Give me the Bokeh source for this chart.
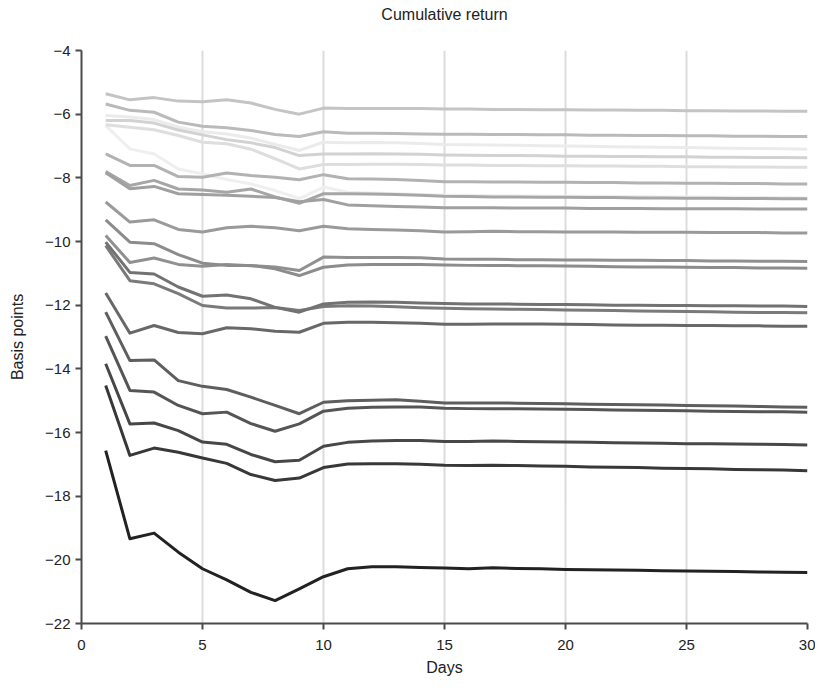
from bokeh.plotting import figure
from bokeh.embed import file_html
from bokeh.resources import INLINE
from bokeh.models import LinearAxis, FixedTicker

days = list(range(1, 31))

s01 = [-5.36, -5.55, -5.48, -5.59, -5.61, -5.55, -5.65, -5.85, -6.00, -5.81,
       -5.82, -5.82, -5.82, -5.82, -5.84, -5.84, -5.85, -5.85, -5.86, -5.86,
       -5.87, -5.87, -5.88, -5.88, -5.89, -5.89, -5.90, -5.90, -5.91, -5.91]
s02 = [-5.68, -5.88, -5.94, -6.25, -6.38, -6.43, -6.51, -6.64, -6.70, -6.55,
       -6.60, -6.60, -6.61, -6.62, -6.63, -6.63, -6.64, -6.64, -6.65, -6.65,
       -6.66, -6.66, -6.67, -6.67, -6.68, -6.68, -6.69, -6.69, -6.70, -6.70]
s03 = [-6.04, -6.09, -6.17, -6.41, -6.55, -6.62, -6.75, -6.95, -7.14, -6.88,
       -6.90, -6.89, -6.90, -6.92, -6.95, -6.96, -6.97, -6.98, -6.99, -7.00,
       -7.01, -7.02, -7.03, -7.04, -7.05, -7.06, -7.07, -7.08, -7.09, -7.10]
s04 = [-6.20, -6.20, -6.28, -6.50, -6.65, -6.80, -6.90, -7.05, -7.30, -7.25,
       -7.25, -7.24, -7.25, -7.26, -7.28, -7.29, -7.30, -7.30, -7.31, -7.32,
       -7.32, -7.33, -7.33, -7.34, -7.34, -7.35, -7.35, -7.36, -7.36, -7.37]
s05 = [-6.33, -6.41, -6.49, -6.67, -6.88, -6.93, -7.10, -7.40, -7.72, -7.58,
       -7.58, -7.57, -7.57, -7.58, -7.60, -7.60, -7.61, -7.61, -7.62, -7.62,
       -7.63, -7.63, -7.64, -7.64, -7.65, -7.65, -7.66, -7.66, -7.67, -7.67]
s06 = [-6.36, -7.09, -7.25, -7.72, -7.87, -8.05, -8.19, -8.40, -8.65, -8.29,
       -8.45, -8.48, -8.50, -8.52, -8.55, -8.55, -8.56, -8.57, -8.57, -8.58,
       -8.58, -8.59, -8.59, -8.60, -8.60, -8.61, -8.61, -8.62, -8.62, -8.63]
s07 = [-7.25, -7.61, -7.61, -7.96, -7.98, -7.85, -7.93, -7.98, -8.06, -7.90,
       -8.03, -8.04, -8.05, -8.08, -8.12, -8.12, -8.13, -8.13, -8.14, -8.14,
       -8.15, -8.15, -8.16, -8.16, -8.17, -8.17, -8.18, -8.18, -8.19, -8.19]
s08 = [-7.80, -8.24, -8.08, -8.35, -8.38, -8.45, -8.35, -8.60, -8.80, -8.50,
       -8.50, -8.51, -8.52, -8.55, -8.58, -8.59, -8.60, -8.60, -8.61, -8.61,
       -8.62, -8.62, -8.63, -8.63, -8.64, -8.64, -8.65, -8.65, -8.66, -8.66]
s09 = [-7.84, -8.34, -8.27, -8.50, -8.52, -8.55, -8.58, -8.62, -8.75, -8.68,
       -8.85, -8.88, -8.90, -8.92, -8.94, -8.94, -8.94, -8.95, -8.95, -8.95,
       -8.96, -8.96, -8.96, -8.97, -8.97, -8.97, -8.97, -8.98, -8.98, -8.98]
s10 = [-8.76, -9.39, -9.32, -9.62, -9.70, -9.57, -9.52, -9.57, -9.66, -9.52,
       -9.60, -9.62, -9.64, -9.66, -9.70, -9.69, -9.68, -9.69, -9.69, -9.70,
       -9.70, -9.70, -9.71, -9.71, -9.71, -9.72, -9.72, -9.72, -9.73, -9.73]
s11 = [-9.32, -10.02, -10.07, -10.41, -10.68, -10.75, -10.75, -10.86, -11.07, -10.81,
       -10.74, -10.72, -10.72, -10.72, -10.74, -10.75, -10.75, -10.76, -10.76, -10.77,
       -10.78, -10.79, -10.80, -10.80, -10.81, -10.82, -10.82, -10.83, -10.83, -10.84]
s12 = [-9.81, -10.66, -10.52, -10.72, -10.78, -10.72, -10.76, -10.80, -10.91, -10.49,
       -10.50, -10.50, -10.50, -10.51, -10.55, -10.56, -10.56, -10.57, -10.57, -10.58,
       -10.58, -10.59, -10.59, -10.60, -10.60, -10.61, -10.61, -10.62, -10.62, -10.63]
s13 = [-10.02, -10.97, -11.02, -11.43, -11.72, -11.68, -11.80, -12.07, -12.22, -11.96,
       -11.91, -11.90, -11.91, -11.93, -11.95, -11.96, -11.96, -11.97, -11.98, -11.98,
       -11.99, -12.00, -12.00, -12.01, -12.01, -12.02, -12.02, -12.03, -12.03, -12.04]
s14 = [-10.13, -11.23, -11.33, -11.64, -12.01, -12.09, -12.09, -12.07, -12.17, -12.04,
       -12.02, -12.03, -12.05, -12.08, -12.10, -12.11, -12.12, -12.13, -12.14, -12.15,
       -12.16, -12.17, -12.18, -12.19, -12.20, -12.21, -12.22, -12.23, -12.23, -12.24]
s15 = [-11.62, -12.88, -12.64, -12.86, -12.90, -12.71, -12.74, -12.82, -12.85, -12.57,
       -12.54, -12.54, -12.55, -12.57, -12.60, -12.60, -12.59, -12.59, -12.59, -12.60,
       -12.61, -12.62, -12.63, -12.63, -12.64, -12.64, -12.65, -12.65, -12.66, -12.66]
s16 = [-12.22, -13.74, -13.72, -14.37, -14.55, -14.65, -14.89, -15.15, -15.41, -15.05,
       -15.00, -14.99, -14.97, -15.02, -15.07, -15.07, -15.07, -15.08, -15.09, -15.10,
       -15.11, -15.12, -15.13, -15.14, -15.15, -15.16, -15.17, -15.18, -15.20, -15.21]
s17 = [-12.97, -14.68, -14.73, -15.15, -15.41, -15.36, -15.72, -15.96, -15.73, -15.33,
       -15.24, -15.21, -15.20, -15.20, -15.24, -15.25, -15.25, -15.25, -15.26, -15.27,
       -15.28, -15.29, -15.30, -15.31, -15.32, -15.33, -15.34, -15.35, -15.35, -15.36]
s18 = [-13.84, -15.73, -15.70, -15.94, -16.30, -16.37, -16.69, -16.92, -16.87, -16.43,
       -16.31, -16.27, -16.25, -16.25, -16.28, -16.28, -16.27, -16.28, -16.29, -16.30,
       -16.31, -16.32, -16.33, -16.34, -16.35, -16.35, -16.36, -16.37, -16.38, -16.39]
s19 = [-14.52, -16.72, -16.49, -16.62, -16.80, -16.97, -17.32, -17.51, -17.43, -17.10,
       -16.99, -16.98, -16.98, -17.00, -17.03, -17.04, -17.03, -17.04, -17.05, -17.06,
       -17.08, -17.09, -17.10, -17.12, -17.13, -17.14, -17.16, -17.17, -17.18, -17.20]
s20 = [-16.57, -19.34, -19.16, -19.76, -20.28, -20.63, -21.02, -21.28, -20.91, -20.53,
       -20.28, -20.22, -20.22, -20.24, -20.26, -20.28, -20.25, -20.27, -20.28, -20.30,
       -20.31, -20.32, -20.33, -20.34, -20.35, -20.36, -20.37, -20.38, -20.39, -20.40]

series = [s01, s02, s03, s04, s05, s06, s07, s08, s09, s10,
          s11, s12, s13, s14, s15, s16, s17, s18, s19, s20]
colors = ["#c4c4c4", "#bababa", "#ebebeb", "#d2d2d2", "#dedede", "#efefef",
          "#b2b2b2", "#a6a6a6", "#a0a0a0", "#9a9a9a", "#8c8c8c", "#909090",
          "#727272", "#7a7a7a", "#686868", "#5e5e5e", "#555555", "#474747",
          "#383838", "#222222"]

x_ticks = [0, 5, 10, 15, 20, 25, 30]
y_ticks = [-22, -20, -18, -16, -14, -12, -10, -8, -6, -4]
y_tick_labels = ["\u221222", "\u221220", "\u221218", "\u221216", "\u221214",
                 "\u221212", "\u221210", "\u22128", "\u22126", "\u22124"]
title_text = "Cumulative return"

FONT = "Liberation Sans"

p = figure(width=815, height=684, x_range=(0, 30), y_range=(-22, -4),
           output_backend="svg", toolbar_location=None,
           min_border_left=81, min_border_right=8, min_border_top=50,
           min_border_bottom=61)
p.outline_line_color = None
p.background_fill_color = "white"

xa = p.below[0]
ya = p.left[0]

# invisible top axis used only as a spacer between the frame and the title
spacer = LinearAxis(ticker=FixedTicker(ticks=[15]), axis_line_color=None,
                    major_tick_out=28, major_tick_in=0, minor_tick_out=0,
                    minor_tick_in=0, major_tick_line_color=None,
                    minor_tick_line_color=None, major_label_standoff=0,
                    major_label_overrides={15: ""},
                    major_label_text_font_size="1px",
                    axis_label=None)
p.add_layout(spacer, "above")

p.title.text = title_text
p.title.align = "center"
p.title.vertical_align = "bottom"
p.title.text_font = FONT
p.title.text_font_size = "16px"
p.title.text_font_style = "normal"
p.title.text_color = "#222222"
p.title.standoff = 0

# draw lightest first so darker lines sit on top
order = sorted(range(len(series)), key=lambda i: -int(colors[i][1:3], 16))
for i in order:
    p.line(days, series[i], line_color=colors[i], line_width=3,
           line_join="round")

xa.ticker = FixedTicker(ticks=x_ticks)
ya.ticker = FixedTicker(ticks=y_ticks)
ya.major_label_overrides = {v: t for v, t in zip(y_ticks, y_tick_labels)}
xa.axis_label = "Days"
ya.axis_label = "Basis points"

for ax in (xa, ya):
    ax.axis_line_color = "#4a4a4a"
    ax.axis_line_width = 2
    ax.major_tick_line_color = "#4a4a4a"
    ax.major_tick_line_width = 2
    ax.major_tick_in = 0
    ax.major_tick_out = 6
    ax.minor_tick_line_color = None
    ax.major_label_text_font = FONT
    ax.major_label_text_font_size = "15px"
    ax.major_label_text_color = "#222222"
    ax.axis_label_text_font = FONT
    ax.axis_label_text_font_size = "16px"
    ax.axis_label_text_font_style = "normal"
    ax.axis_label_text_color = "#222222"

ya.axis_label_standoff = 16
xa.axis_label_standoff = 6
xa.major_label_standoff = 10

p.xgrid.grid_line_color = "#dcdcdc"
p.xgrid.grid_line_width = 2
p.ygrid.grid_line_color = None

open("out.html", "w").write(file_html(p, INLINE))
